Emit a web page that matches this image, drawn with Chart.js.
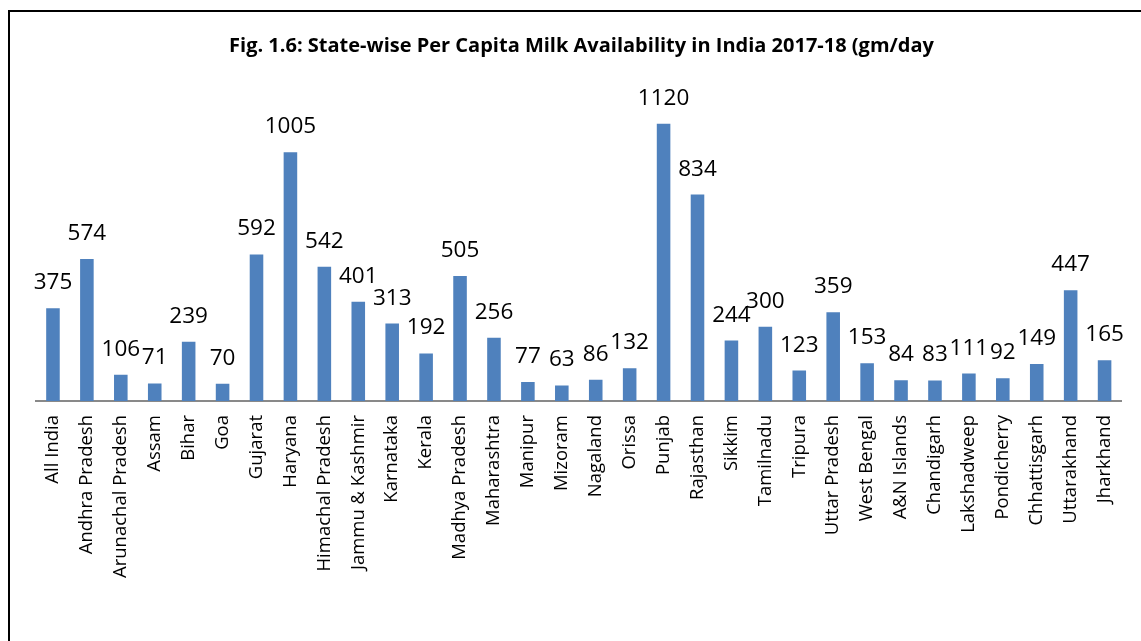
<!DOCTYPE html>
<html>
<head>
<meta charset="utf-8">
<script src="https://cdn.jsdelivr.net/npm/chart.js@4"></script>
<style>
  html, body { margin: 0; padding: 0; background: #fff; }
  #wrap { position: relative; width: 1141px; height: 641px; overflow: hidden; }
  #frame { position: absolute; left: 8px; top: 10px; width: 1200px; height: 700px;
           border-left: 2px solid #000; border-top: 2px solid #000; }
  canvas { position: absolute; left: 0; top: 0; }
</style>
</head>
<body>
<div id="wrap">
  <div id="frame"></div>
  <canvas id="milkChart" width="1141" height="641"></canvas>
</div>
<script>
// States and their per capita milk availability (gm/day), 2017-18
const states = [
    'All India', 'Andhra Pradesh', 'Arunachal Pradesh', 'Assam', 'Bihar', 'Goa',
    'Gujarat', 'Haryana', 'Himachal Pradesh', 'Jammu & Kashmir', 'Karnataka',
    'Kerala', 'Madhya Pradesh', 'Maharashtra', 'Manipur', 'Mizoram', 'Nagaland',
    'Orissa', 'Punjab', 'Rajasthan', 'Sikkim', 'Tamilnadu', 'Tripura',
    'Uttar Pradesh', 'West Bengal', 'A&N Islands', 'Chandigarh', 'Lakshadweep',
    'Pondicherry', 'Chhattisgarh', 'Uttarakhand', 'Jharkhand'
];
const milkPerCapita = [
    375, 574, 106, 71, 239, 70,
    592, 1005, 542, 401, 313,
    192, 505, 256, 77, 63, 86,
    132, 1120, 834, 244, 300, 123,
    359, 153, 84, 83, 111,
    92, 149, 447, 165
];
const titleText = 'Fig. 1.6: State-wise Per Capita Milk Availability in India 2017-18 (gm/day';

// Plugin to draw value labels above each bar
const valueLabels = {
    id: 'valueLabels',
    afterDatasetsDraw(chart) {
        const ctx = chart.ctx;
        const meta = chart.getDatasetMeta(0);
        ctx.save();
        ctx.font = '22.5px "Open Sans"';
        ctx.fillStyle = '#000';
        ctx.textAlign = 'center';
        ctx.textBaseline = 'alphabetic';
        meta.data.forEach((bar, i) => {
            ctx.fillText(String(milkPerCapita[i]), bar.x, bar.y - 19);
        });
        ctx.restore();
    }
};

const ctx = document.getElementById('milkChart').getContext('2d');
new Chart(ctx, {
    type: 'bar',
    data: {
        labels: states,
        datasets: [{
            data: milkPerCapita,
            backgroundColor: '#4F81BD',
            barPercentage: 0.5,
            categoryPercentage: 0.8
        }]
    },
    options: {
        responsive: false,
        animation: false,
        layout: {
            padding: { left: 36, right: 14, top: 0, bottom: 0 }
        },
        scales: {
            x: {
                grid: { display: false, drawTicks: false },
                border: { color: '#898989', width: 2 },
                ticks: {
                    color: '#000',
                    font: { family: '"Open Sans"', size: 18.5 },
                    maxRotation: 90,
                    minRotation: 90,
                    autoSkip: false,
                    padding: 14
                },
                afterFit(scale) {
                    scale.height = 240;
                }
            },
            y: {
                display: false,
                min: 0,
                max: 1200
            }
        },
        plugins: {
            legend: { display: false },
            tooltip: { enabled: false },
            title: {
                display: true,
                text: titleText,
                color: '#000',
                font: { family: '"Open Sans"', size: 20, weight: 'bold' },
                padding: { top: 34, bottom: 46 }
            }
        }
    },
    plugins: [valueLabels]
});
</script>
</body>
</html>
